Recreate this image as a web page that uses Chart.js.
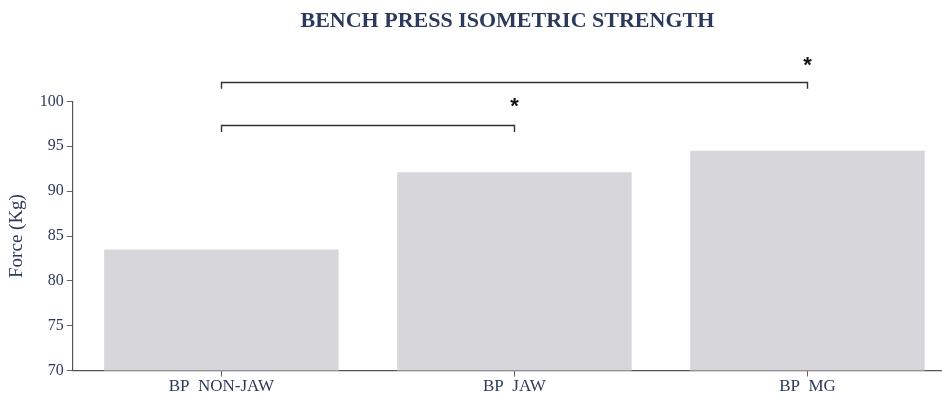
<!DOCTYPE html>
<html>
<head>
<meta charset="utf-8">
<script src="https://cdn.jsdelivr.net/npm/chart.js@4.4.1/dist/chart.umd.min.js"></script>
<style>
  html, body { margin: 0; padding: 0; background: #ffffff; }
  #wrap { width: 942px; height: 397px; }
</style>
</head>
<body>
<div id="wrap"><canvas id="c" width="942" height="397"></canvas></div>
<script>
// Bench press isometric strength per condition
const categories = ['BP  NON-JAW', 'BP  JAW', 'BP  MG'];
const forceKg = [83.5, 92.1, 94.5];
const yTicks = [70, 75, 80, 85, 90, 95, 100];

// Significance brackets: [fromIndex, toIndex, barY, legY, starY]
const brackets = [
  [0, 2, 102.2, 101.4, 104.4],
  [0, 1, 97.4, 96.6, 99.8]
];

const navy = '#2b3a5c';
const serif = "'Liberation Serif', 'DejaVu Serif', serif";

const bracketPlugin = {
  id: 'sigBrackets',
  afterDatasetsDraw(chart) {
    const { ctx, scales: { x, y } } = chart;
    ctx.save();
    ctx.strokeStyle = '#333333';
    ctx.lineWidth = 1.4;
    brackets.forEach(([a, b, top, leg, star]) => {
      const x1 = Math.round(x.getPixelForValue(a)) + 0.5;
      const x2 = Math.round(x.getPixelForValue(b)) + 0.5;
      const yt = Math.round(y.getPixelForValue(top)) + 0.5;
      const yl = y.getPixelForValue(leg);
      ctx.beginPath();
      ctx.moveTo(x1, yl);
      ctx.lineTo(x1, yt);
      ctx.lineTo(x2, yt);
      ctx.lineTo(x2, yl);
      ctx.stroke();
      ctx.fillStyle = '#111111';
      ctx.font = "bold 22px 'Liberation Sans', 'DejaVu Sans', sans-serif";
      ctx.textAlign = 'center';
      ctx.textBaseline = 'middle';
      ctx.fillText('*', x2, y.getPixelForValue(star) + 4);
    });
    ctx.restore();
  }
};

new Chart(document.getElementById('c'), {
  type: 'bar',
  data: {
    datasets: [{
      data: forceKg.map((v, i) => ({ x: i, y: v })),
      backgroundColor: '#d6d6db',
      borderWidth: 0,
      categoryPercentage: 1.0,
      barPercentage: 0.8
    }]
  },
  options: {
    responsive: false,
    animation: false,
    layout: { padding: { left: 6, right: 0, top: 0, bottom: 0 } },
    plugins: {
      legend: { display: false },
      tooltip: { enabled: false },
      title: {
        display: true,
        fullSize: false,
        text: 'BENCH PRESS ISOMETRIC STRENGTH',
        color: navy,
        font: { family: serif, size: 22, weight: 'bold' },
        padding: { top: 8, bottom: 67 }
      }
    },
    scales: {
      x: {
        type: 'linear',
        offset: false,
        min: -0.507,
        max: 2.459,
        afterBuildTicks(scale) {
          scale.ticks = categories.map((_, i) => ({ value: i }));
        },
        ticks: {
          callback: (v) => categories[v] ?? '',
          color: navy,
          font: { family: serif, size: 17 },
          padding: 0,
          maxRotation: 0,
          autoSkip: false
        },
        grid: { offset: false, drawOnChartArea: false, drawTicks: true, tickLength: 6, color: '#666666' },
        border: { color: '#555555', width: 1.2 }
      },
      y: {
        min: 70,
        max: 100,
        afterBuildTicks(scale) {
          scale.ticks = yTicks.map(v => ({ value: v }));
        },
        ticks: {
          color: navy,
          font: { family: serif, size: 16 },
          padding: 3
        },
        grid: { drawOnChartArea: false, drawTicks: true, tickLength: 6, color: '#666666' },
        border: { color: '#555555', width: 1.2 },
        title: {
          display: true,
          text: 'Force (Kg)',
          color: navy,
          font: { family: serif, size: 19 },
          padding: { top: 0, bottom: 8 }
        }
      }
    }
  },
  plugins: [bracketPlugin]
});
</script>
</body>
</html>
